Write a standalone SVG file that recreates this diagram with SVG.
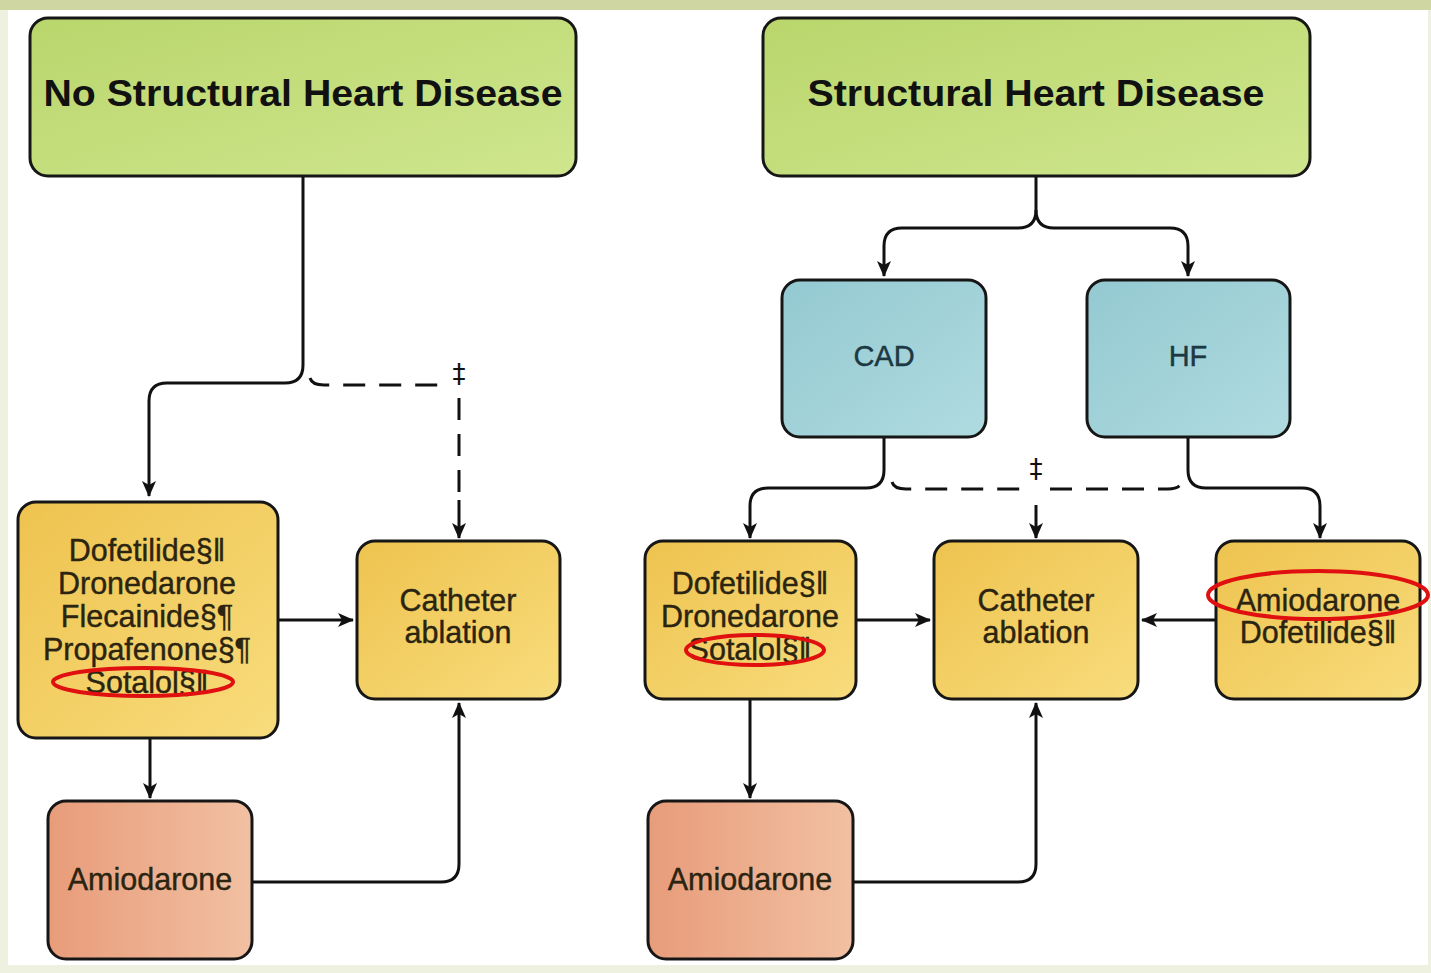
<svg xmlns="http://www.w3.org/2000/svg" width="1431" height="973" viewBox="0 0 1431 973">
<defs>
<linearGradient id="gGreen" x1="0" y1="0" x2="1" y2="1"><stop offset="0" stop-color="#b9d66c"/><stop offset="1" stop-color="#cfe68e"/></linearGradient>
<linearGradient id="gYellow" x1="0" y1="0" x2="1" y2="1"><stop offset="0" stop-color="#eec34f"/><stop offset="1" stop-color="#f8dc7c"/></linearGradient>
<linearGradient id="gTeal" x1="0" y1="0" x2="1" y2="1"><stop offset="0" stop-color="#94c9d1"/><stop offset="1" stop-color="#afdbe0"/></linearGradient>
<linearGradient id="gSalmon" x1="0" y1="0" x2="1" y2="0"><stop offset="0" stop-color="#e89c7a"/><stop offset="1" stop-color="#f1c0a2"/></linearGradient>
<marker id="ah" viewBox="0 0 16 16" refX="15" refY="8" markerWidth="16" markerHeight="16" markerUnits="userSpaceOnUse" orient="auto"><path d="M0,1 L16,8 L0,15 L4,8 Z" fill="#111"/></marker>
</defs>
<style>
.box{stroke:#161616;stroke-width:3}
.title{font-family:"Liberation Sans",Arial,sans-serif;font-weight:bold;font-size:36px;fill:#111;text-anchor:middle}
.lbl{font-family:"Liberation Sans",Arial,sans-serif;font-size:30.5px;fill:#2a2410;stroke:#2a2410;stroke-width:0.4;text-anchor:middle}
.tl{font-family:"Liberation Sans",Arial,sans-serif;font-size:29px;fill:#1c3842;stroke:#1c3842;stroke-width:0.4;text-anchor:middle}
.c{fill:none;stroke:#111;stroke-width:3}
.d{fill:none;stroke:#111;stroke-width:3;stroke-dasharray:22 14}
.red{fill:none;stroke:#e01010;stroke-width:4}
.dg{font-family:"DejaVu Sans",sans-serif;font-size:26px;fill:#111;text-anchor:middle}
</style>
<rect x="0" y="0" width="1431" height="973" fill="#eef0e0"/>
<rect x="0" y="0" width="1431" height="10" fill="#cfd6a2"/>
<rect x="8" y="10" width="1420" height="955" fill="#ffffff"/>

<g id="connectors">
<path class="c" d="M303 176 V365 Q303 383 285 383 H167 Q149 383 149 401 V496" marker-end="url(#ah)"/>
<path class="d" d="M310 378 Q312 385 324 385 H448"/>
<path class="d" d="M459 398 V500"/>
<path class="c" d="M459 500 V538" marker-end="url(#ah)"/>
<text class="dg" x="459" y="383">‡</text>
<path class="c" d="M278 620 H353" marker-end="url(#ah)"/>
<path class="c" d="M150 738 V798" marker-end="url(#ah)"/>
<path class="c" d="M252 882 H441 Q459 882 459 864 V703" marker-end="url(#ah)"/>

<path class="c" d="M1036 176 V210 Q1036 228 1018 228 H902 Q884 228 884 246 V276" marker-end="url(#ah)"/>
<path class="c" d="M1036 210 Q1036 228 1054 228 H1170 Q1188 228 1188 246 V276" marker-end="url(#ah)"/>
<path class="c" d="M884 437 V470 Q884 488 866 488 H768 Q750 488 750 506 V538" marker-end="url(#ah)"/>
<path class="c" d="M1188 437 V470 Q1188 488 1206 488 H1302 Q1320 488 1320 506 V538" marker-end="url(#ah)"/>
<path class="d" d="M892 482 Q894 489 906 489 H1022"/>
<path class="d" d="M1050 489 H1168 Q1180 489 1182 482"/>
<text class="dg" x="1036" y="478">‡</text>
<path class="c" d="M1036 505 V538" marker-end="url(#ah)"/>
<path class="c" d="M856 620 H930" marker-end="url(#ah)"/>
<path class="c" d="M1216 620 H1142" marker-end="url(#ah)"/>
<path class="c" d="M750 699 V798" marker-end="url(#ah)"/>
<path class="c" d="M853 882 H1018 Q1036 882 1036 864 V703" marker-end="url(#ah)"/>
</g>

<g id="node-no-shd">
<rect class="box" x="30" y="18" width="546" height="158" rx="18" fill="url(#gGreen)"/>
<text class="title" x="303" y="106" textLength="519" lengthAdjust="spacingAndGlyphs">No Structural Heart Disease</text>
</g>
<g id="node-shd">
<rect class="box" x="763" y="18" width="547" height="158" rx="18" fill="url(#gGreen)"/>
<text class="title" x="1036" y="106" textLength="457" lengthAdjust="spacingAndGlyphs">Structural Heart Disease</text>
</g>
<g id="node-cad">
<rect class="box" x="782" y="280" width="204" height="157" rx="18" fill="url(#gTeal)"/>
<text class="tl" x="884" y="366">CAD</text>
</g>
<g id="node-hf">
<rect class="box" x="1087" y="280" width="203" height="157" rx="18" fill="url(#gTeal)"/>
<text class="tl" x="1188" y="366">HF</text>
</g>
<g id="node-drugs-left">
<rect class="box" x="18" y="502" width="260" height="236" rx="18" fill="url(#gYellow)"/>
<text class="lbl" x="147" y="561">Dofetilide§‖</text>
<text class="lbl" x="147" y="594">Dronedarone</text>
<text class="lbl" x="147" y="627">Flecainide§¶</text>
<text class="lbl" x="147" y="660">Propafenone§¶</text>
<text class="lbl" x="147" y="693">Sotalol§‖</text>
</g>
<g id="node-ablation-left">
<rect class="box" x="357" y="541" width="203" height="158" rx="18" fill="url(#gYellow)"/>
<text class="lbl" x="458" y="611">Catheter</text>
<text class="lbl" x="458" y="643">ablation</text>
</g>
<g id="node-amio-left">
<rect class="box" x="48" y="801" width="204" height="158" rx="18" fill="url(#gSalmon)"/>
<text class="lbl" x="150" y="890">Amiodarone</text>
</g>
<g id="node-drugs-right">
<rect class="box" x="645" y="541" width="211" height="158" rx="18" fill="url(#gYellow)"/>
<text class="lbl" x="750" y="594">Dofetilide§‖</text>
<text class="lbl" x="750" y="627">Dronedarone</text>
<text class="lbl" x="750" y="660">Sotalol§‖</text>
</g>
<g id="node-ablation-right">
<rect class="box" x="934" y="541" width="204" height="158" rx="18" fill="url(#gYellow)"/>
<text class="lbl" x="1036" y="611">Catheter</text>
<text class="lbl" x="1036" y="643">ablation</text>
</g>
<g id="node-hf-drugs">
<rect class="box" x="1216" y="541" width="204" height="158" rx="18" fill="url(#gYellow)"/>
<text class="lbl" x="1318" y="611">Amiodarone</text>
<text class="lbl" x="1318" y="643">Dofetilide§‖</text>
</g>
<g id="node-amio-right">
<rect class="box" x="648" y="801" width="205" height="158" rx="18" fill="url(#gSalmon)"/>
<text class="lbl" x="750" y="890">Amiodarone</text>
</g>

<g id="highlights">
<ellipse class="red" cx="143" cy="682" rx="90" ry="14"/>
<ellipse class="red" cx="755" cy="650" rx="69" ry="15"/>
<ellipse class="red" cx="1318" cy="595" rx="110" ry="24"/>
</g>
</svg>
